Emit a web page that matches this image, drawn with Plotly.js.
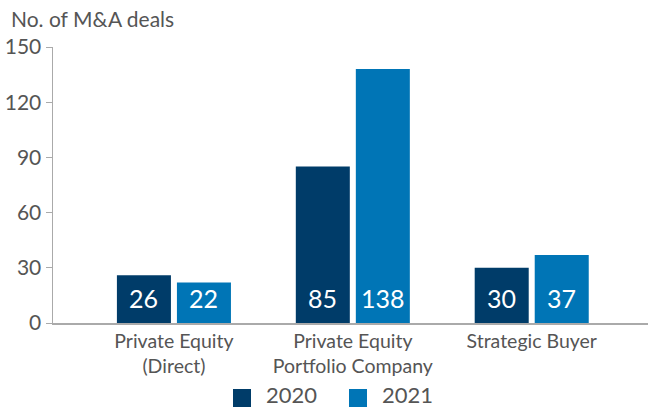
<!DOCTYPE html>
<html>
<head>
<meta charset="utf-8">
<script src="https://cdn.plot.ly/plotly-3.0.1.min.js"></script>
<style>html,body{margin:0;padding:0;background:#fff}#chart{width:648px;height:408px}</style>
</head>
<body>
<div id="chart"></div>
<script>
const categories = ["Private Equity<br>(Direct)", "Private Equity<br>Portfolio Company", "Strategic Buyer"];
const values2020 = [26, 85, 30];
const values2021 = [22, 138, 37];
const seriesNames = ["2020", "2021"];
const yTicks = [0, 30, 60, 90, 120, 150];

const FONT = "Lato, 'Noto Sans', sans-serif";
const colors = ["#003C69", "#0075B6"];
const seriesValues = [values2020, values2021];

const data = seriesNames.map((name, i) => ({
  type: "bar", name: name, x: categories, y: seriesValues[i],
  marker: {color: colors[i]}, hoverinfo: "skip", showlegend: false
}));

// value labels at the bottom of each bar
const annotations = [];
seriesValues.forEach((vals, i) => {
  vals.forEach((v, j) => {
    annotations.push({
      x: categories[j], y: 0, xref: "x", yref: "y", text: String(v),
      xshift: i === 0 ? -30 : 30, yshift: 8, yanchor: "bottom", xanchor: "center",
      showarrow: false, font: {family: FONT, size: 25, color: "#ffffff"}
    });
  });
});
annotations.push({
  text: "No. of M&A deals", xref: "paper", yref: "paper", x: -0.074, y: 1.05,
  xanchor: "left", yanchor: "bottom", showarrow: false, font: {size: 21, color: "#555555", family: FONT}
});

// custom legend (larger squares than Plotly's default)
const legX = [233, 349];
const shapes = [];
seriesNames.forEach((name, i) => {
  const x0 = (legX[i] - 53) / 595;
  const x1 = (legX[i] + 18 - 53) / 595;
  shapes.push({type: "rect", xref: "paper", yref: "paper",
    x0: x0, x1: x1, y0: -(389 - 323) / 276, y1: -(407 - 323) / 276,
    fillcolor: colors[i], line: {width: 0}});
  annotations.push({text: name, xref: "paper", yref: "paper",
    x: (legX[i] + 32 - 53) / 595, y: -(394 - 323) / 276, xanchor: "left", yanchor: "middle",
    borderpad: 0, showarrow: false, font: {size: 22, color: "#555555", family: FONT}});
});

const layout = {
  width: 648, height: 408,
  margin: {l: 53, r: 0, t: 47, b: 85, autoexpand: false},
  paper_bgcolor: "#fff", plot_bgcolor: "#fff",
  barmode: "group", bargap: 0.329, bargroupgap: 0.1,
  font: {family: FONT, color: "#555555"},
  xaxis: {
    range: [-0.676, 2.65], showline: true, linecolor: "#aaaaaa", linewidth: 1.5,
    ticks: "", tickfont: {size: 19.5, color: "#555555"}, showgrid: false, zeroline: false, fixedrange: true
  },
  yaxis: {
    range: [0, 150], tickvals: yTicks, ticks: "outside", ticklen: 6, tickcolor: "#aaaaaa",
    showline: true, linecolor: "#aaaaaa", linewidth: 1.5, showgrid: false, zeroline: false,
    tickfont: {size: 21, color: "#555555"}, fixedrange: true
  },
  showlegend: false,
  annotations: annotations,
  shapes: shapes
};

Plotly.newPlot("chart", data, layout, {displayModeBar: false, staticPlot: true});
</script>
</body>
</html>
